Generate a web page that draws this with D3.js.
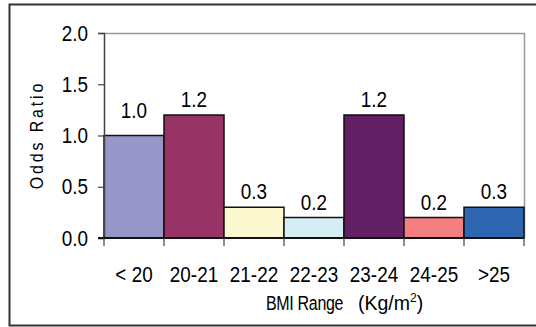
<!DOCTYPE html>
<html>
<head>
<meta charset="utf-8">
<script src="https://cdn.jsdelivr.net/npm/d3@7"></script>
<style>
  html, body { margin: 0; padding: 0; background: #fff; }
  svg { display: block; }
  text { font-family: "Liberation Sans", Arial, sans-serif; fill: #000; }
</style>
</head>
<body>
<svg id="chart" width="536" height="327"></svg>
<script>
// BMI ranges and their odds ratios
const categories = ["< 20", "20-21", "21-22", "22-23", "23-24", "24-25", ">25"];
const oddsRatios = [1.0, 1.2, 0.3, 0.2, 1.2, 0.2, 0.3];
const barColors = ["#9696CA", "#983465", "#FCF8CF", "#D4EEF4", "#621F63", "#F47F80", "#2E66B1"];
const yTicks = [0, 0.5, 1.0, 1.5, 2.0];

const svg = d3.select("#chart");
const W = 536, H = 327;
const plot = { left: 104, right: 524, top: 33, bottom: 238 };
const narrow = 0.84;   // horizontal squeeze for a condensed look
const fs = 22.5;

// outer frame (top, left, bottom; right edge runs past the canvas)
svg.append("path")
  .attr("d", `M${W + 5},4.5 H9.5 V325.5 H${W + 5}`)
  .attr("fill", "none")
  .attr("stroke", "#333")
  .attr("stroke-width", 2);

const x = d3.scaleBand()
  .domain(categories)
  .range([plot.left, plot.right])
  .padding(0);

const y = d3.scaleLinear()
  .domain([0, 2])
  .range([plot.bottom, plot.top]);

// plot-area border on top and right
svg.append("path")
  .attr("d", `M${plot.left},${plot.top + 0.5} H${plot.right + 0.5} V${plot.bottom}`)
  .attr("fill", "none")
  .attr("stroke", "#999")
  .attr("stroke-width", 1.5);

// bars
svg.append("g")
  .selectAll("rect")
  .data(categories)
  .join("rect")
  .attr("x", d => x(d))
  .attr("y", (d, i) => y(oddsRatios[i]))
  .attr("width", x.bandwidth())
  .attr("height", (d, i) => y(0) - y(oddsRatios[i]))
  .attr("fill", (d, i) => barColors[i])
  .attr("stroke", "#111")
  .attr("stroke-width", 1.5);

// value labels
svg.append("g")
  .selectAll("text")
  .data(categories)
  .join("text")
  .attr("transform", (d, i) =>
    `translate(${x(d) + x.bandwidth() / 2},${y(oddsRatios[i]) - (i === 0 ? 18 : 8)}) scale(${narrow},1)`)
  .attr("text-anchor", "middle")
  .attr("font-size", fs)
  .text((d, i) => oddsRatios[i].toFixed(1));

// y axis
const yAxis = svg.append("g")
  .attr("transform", `translate(${plot.left},0)`)
  .call(d3.axisLeft(y).tickValues(yTicks).tickFormat(d3.format(".1f")).tickSize(6).tickPadding(10));
yAxis.select(".domain").attr("stroke", "#444").attr("stroke-width", 1.5);
yAxis.selectAll(".tick line").attr("stroke", "#444").attr("stroke-width", 1.2);
yAxis.selectAll(".tick text")
  .attr("font-size", fs)
  .attr("font-family", null)
  .attr("x", -16 / narrow)
  .attr("transform", `scale(${narrow},1)`);

// x axis: ticks at category boundaries
const bounds = categories.map(c => x(c)).concat([plot.right]);
const xAxis = svg.append("g");
xAxis.append("line")
  .attr("x1", plot.left - 6).attr("x2", plot.right)
  .attr("y1", plot.bottom).attr("y2", plot.bottom)
  .attr("stroke", "#111").attr("stroke-width", 2);
xAxis.selectAll("line.tk")
  .data(bounds)
  .join("line")
  .attr("class", "tk")
  .attr("x1", d => d).attr("x2", d => d)
  .attr("y1", plot.bottom).attr("y2", plot.bottom + 8)
  .attr("stroke", "#444").attr("stroke-width", 1.2);
xAxis.selectAll("text")
  .data(categories)
  .join("text")
  .attr("transform", d => `translate(${x(d) + x.bandwidth() / 2},282) scale(${narrow},1)`)
  .attr("text-anchor", "middle")
  .attr("font-size", fs)
  .text(d => d);

// axis titles
svg.append("text")
  .attr("transform", `translate(43,135) rotate(-90) scale(${narrow},1)`)
  .attr("text-anchor", "middle")
  .attr("font-size", 19)
  .attr("letter-spacing", 3.4)
  .text("Odds Ratio");

svg.append("text")
  .attr("transform", "translate(266,310) scale(0.8,1)")
  .attr("font-size", 20)
  .attr("letter-spacing", -0.4)
  .text("BMI Range");

const unit = svg.append("text")
  .attr("x", 358)
  .attr("y", 310)
  .attr("font-size", 19.5);
unit.append("tspan").text("(Kg/m");
unit.append("tspan").attr("font-size", 12).attr("dy", -8).text("2");
unit.append("tspan").attr("dy", 8).text(")");
</script>
</body>
</html>
